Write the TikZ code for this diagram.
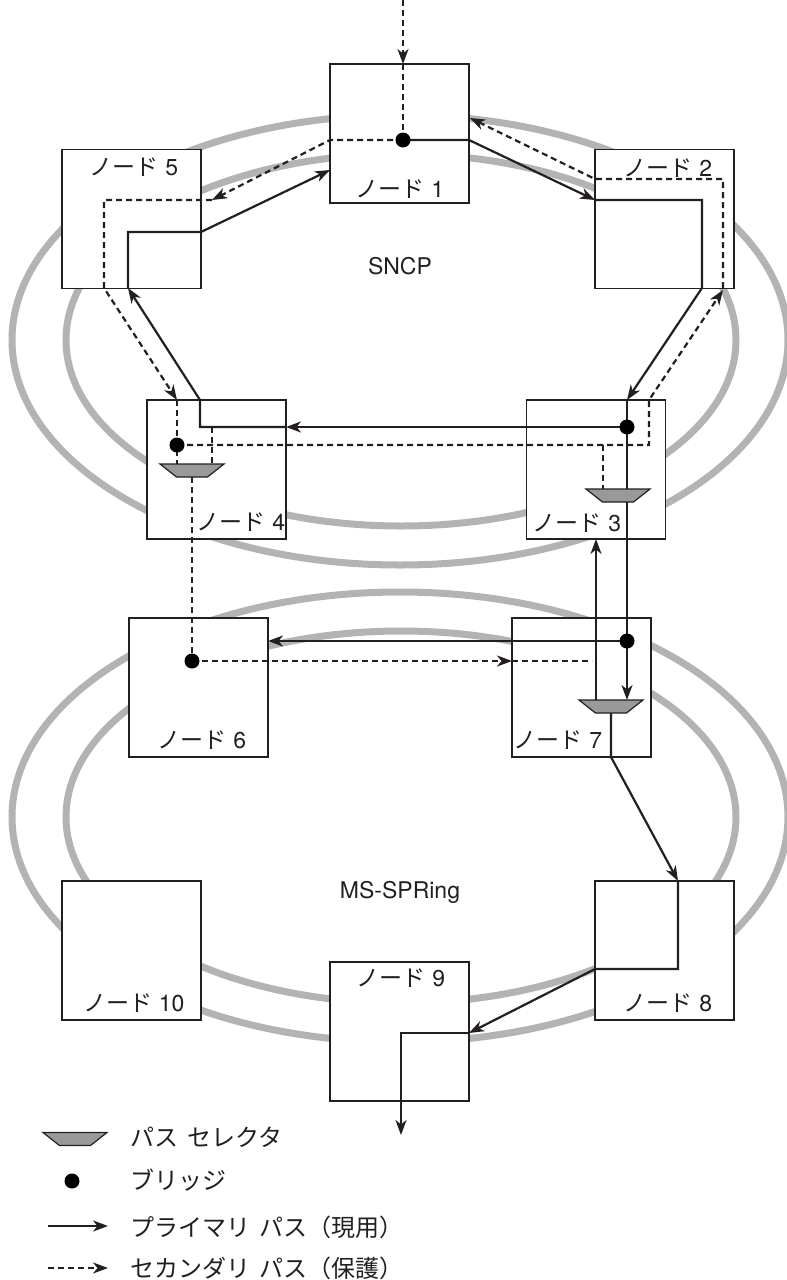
\documentclass[tikz,border=0pt]{standalone}
\usepackage{fontspec}
\setmainfont{TeX Gyre Heros}
\newfontfamily\jp{Noto Sans CJK JP}
\usetikzlibrary{arrows.meta}
\definecolor{ink}{HTML}{231F20}
\definecolor{ringc}{HTML}{B3B3B3}
\definecolor{selfill}{HTML}{999999}
\newcommand{\ndlbl}[1]{{\jp ノード}\ #1}
\newcommand{\pathsel}[3]{%
  \coordinate (#1) at (#2,#3);
  \filldraw[selshape, shift={(#2,#3)}] (-32,-6.5) -- (32,-6.5) -- (15.5,6.5) -- (-15.5,6.5) -- cycle;}
\begin{document}
\begin{tikzpicture}[x=1pt,y=-1pt,
  box/.style={draw=ink, line width=1.8pt, fill=white, minimum size=139pt, inner sep=0pt, outer sep=0pt},
  ringline/.style={draw=ringc, line width=7pt},
  prim/.style={draw=ink, line width=2.2pt},
  sec/.style={draw=ink, line width=2.2pt, dash pattern=on 6pt off 4pt},
  tip/.style={-{Stealth[length=15pt,width=11pt,inset=4.5pt]}},
  dot/.style={circle, fill=black, inner sep=0pt, minimum size=15pt},
  selshape/.style={fill=selfill, draw=ink, line width=1.2pt, line join=miter},
  lbl/.style={inner sep=0pt, font=\fontsize{23}{27}\selectfont, text=ink},
  ringlbl/.style={inner sep=0pt, font=\fontsize{23}{27}\selectfont, text=ink},
  leg/.style={inner sep=0pt, anchor=west, font=\fontsize{24}{28}\selectfont\jp, text=ink}
]
\useasboundingbox (0,0) rectangle (787,1280);

% rings
\draw[ringline] (400,340) ellipse [x radius=388pt, y radius=225pt];
\draw[ringline] (401,340) ellipse [x radius=335pt, y radius=186pt];
\draw[ringline] (400,817) ellipse [x radius=388pt, y radius=225pt];
\draw[ringline] (401,817) ellipse [x radius=335pt, y radius=186pt];

\node[ringlbl] (sncp) at (400,266) {SNCP};
\node[ringlbl] (msspr) at (400,892) {MS-SPRing};

% boxes
\node[box] (n1) at (399.5,133.5) {};
\node[box] (n5) at (131.5,219) {};
\node[box] (n2) at (664.5,219) {};
\node[box] (n4) at (216.5,469.5) {};
\node[box] (n3) at (596,469.5) {};
\node[box] (n6) at (198.5,687.5) {};
\node[box] (n7) at (581.5,687.5) {};
\node[box] (n10) at (131.5,950.5) {};
\node[box] (n8) at (664.5,950.5) {};
\node[box] (n9) at (399.5,1031.5) {};

% bridge positions
\coordinate (b1) at (403,140);
\coordinate (b3) at (627,427);
\coordinate (b4) at (177,445);
\coordinate (b6) at (192,661);
\coordinate (b7) at (627,641);
\coordinate (top) at (403,0);
\coordinate (out) at (401,1135);

% primary paths
\draw[prim,tip] (b1) -- (n1.east |- b1) -- (595,200);
\draw[prim,tip] (595,200) -- (702,200) -- (702,288) -- (627,400);
\draw[prim] (627,400) -- (b7);
\draw[prim,tip] (b7) -- (627,700);
\draw[prim,tip] (b3) -- (n4.east |- b3);
\draw[prim,tip] (n4.east |- b3) -- (200,427) -- (200,400) -- (128,288);
\draw[prim,tip] (128,288) -- (128,232) -- (201,232) -- (330,170);
\draw[prim,tip] (b7) -- (n6.east |- b7);
\draw[prim,tip] (596,700) -- (596,539);
\draw[prim,tip] (611,713) -- (611,757) -- (678,881);
\draw[prim,tip] (678,881) -- (678,969) -- (595,969) -- (469,1033);
\draw[prim,tip] (469,1033) -- (401,1033) -- (out);

% secondary paths
\draw[sec,tip] (top) -- (403,64);
\draw[sec] (403,64) -- (b1);
\draw[sec,tip] (b1) -- (n1.west |- b1) -- (212,200);
\draw[sec,tip] (212,200) -- (104,200) -- (104,288) -- (177,400);
\draw[sec] (177,400) -- (177,464);
\draw[sec] (212,427) -- (212,464);
\draw[sec,tip] (b4) -- (649,445) -- (649,400) -- (723,290);
\draw[sec,tip] (723,288) -- (723,179) -- (595,179) -- (470,118);
\draw[sec] (603,445) -- (603,489);
\draw[sec] (192,477) -- (b6);
\draw[sec,tip] (b6) -- (n7.west |- b6);
\draw[sec] (n7.west |- b6) -- (592,661);

% selectors
\pathsel{s4}{192}{470.5}
\pathsel{s3}{618}{495.5}
\pathsel{s7}{611}{706.5}

% bridges
\node[dot] (d1) at (b1) {};
\node[dot] (d3) at (b3) {};
\node[dot] (d4) at (b4) {};
\node[dot] (d6) at (b6) {};
\node[dot] (d7) at (b7) {};

% labels
\node[lbl] (l1) at (400,189) {\ndlbl{1}};
\node[lbl] (l5) at (134,167) {\ndlbl{5}};
\node[lbl] (l2) at (668,168) {\ndlbl{2}};
\node[lbl] (l4) at (241,522) {\ndlbl{4}};
\node[lbl] (l3) at (577,523) {\ndlbl{3}};
\node[lbl] (l6) at (202,740) {\ndlbl{6}};
\node[lbl] (l7) at (558,740) {\ndlbl{7}};
\node[lbl] (l10) at (134,1003) {\ndlbl{10}};
\node[lbl] (l8) at (668,1003) {\ndlbl{8}};
\node[lbl] (l9) at (401,978) {\ndlbl{9}};

% legend
\pathsel{ls}{75}{1139}
\node[dot] (ld) at (72,1181) {};
\coordinate (lpa) at (48,1226);
\coordinate (lpb) at (108,1226);
\coordinate (lsa) at (48,1268);
\coordinate (lsb) at (108,1268);
\draw[prim,tip] (lpa) -- (lpb);
\draw[sec,tip] (lsa) -- (lsb);
\node[leg] (t1) at (130,1137) {パス\hspace{9pt}セレクタ};
\node[leg] (t2) at (130,1180) {ブリッジ};
\node[leg] (t3) at (130,1227) {プライマリ\hspace{9pt}パス（現用）};
\node[leg] (t4) at (130,1268) {セカンダリ\hspace{9pt}パス（保護）};
\end{tikzpicture}
\end{document}
